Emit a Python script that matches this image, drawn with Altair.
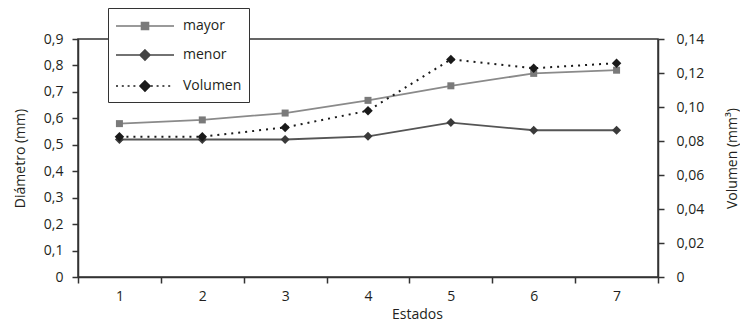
import altair as alt
import pandas as pd

estados = [1, 2, 3, 4, 5, 6, 7]
mayor = [0.58, 0.594, 0.62, 0.668, 0.723, 0.77, 0.782]
menor = [0.52, 0.52, 0.52, 0.532, 0.584, 0.555, 0.555]
volumen = [0.0825, 0.0825, 0.088, 0.0978, 0.128, 0.1228, 0.1258]
series = ["mayor", "menor", "Volumen"]
diam_ticks = [0, 0.1, 0.2, 0.3, 0.4, 0.5, 0.6, 0.7, 0.8, 0.9]
vol_ticks = [0, 0.02, 0.04, 0.06, 0.08, 0.10, 0.12, 0.14]

FONT = "Open Sans"
df_may = pd.DataFrame({"estado": estados, "valor": mayor, "serie": "mayor"})
df_men = pd.DataFrame({"estado": estados, "valor": menor, "serie": "menor"})
df_vol = pd.DataFrame({"estado": estados, "valor": volumen, "serie": "Volumen"})
df_all = pd.concat([df_may, df_men, df_vol])

xenc = alt.X(
    "estado:O",
    bandPosition=0.5,
    scale=alt.Scale(type="band", paddingInner=0, paddingOuter=0),
    axis=alt.Axis(title="Estados", labelAngle=0, tickBand="extent", titleX=339, titlePadding=4),
)

yleft = alt.Y(
    "valor:Q",
    scale=alt.Scale(domain=[0, 0.9], nice=False),
    axis=alt.Axis(
        title="Diámetro (mm)",
        values=diam_ticks,
        titlePadding=16,
        labelExpr="datum.value == 0 ? '0' : replace(format(datum.value, '.1f'), '.', ',')",
    ),
)
yright = alt.Y(
    "valor:Q",
    scale=alt.Scale(domain=[0, 0.14], nice=False),
    axis=alt.Axis(
        title="Volumen (mm³)",
        orient="right",
        values=vol_ticks,
        titleAngle=270,
        titleBaseline="top",
        titlePadding=22,
        labelPadding=12,
        labelExpr="datum.value == 0 ? '0' : replace(format(datum.value, '.2f'), '.', ',')",
    ),
)

line_may = alt.Chart(df_may).mark_line(color="#8a8a8a", strokeWidth=1.8).encode(x=xenc, y=yleft)
pt_may = alt.Chart(df_may).mark_point(shape="square", filled=True, color="#7a7a7a", size=49, opacity=1).encode(x=xenc, y=yleft)
line_men = alt.Chart(df_men).mark_line(color="#555555", strokeWidth=1.8).encode(x=xenc, y=yleft)
pt_men = alt.Chart(df_men).mark_point(shape="diamond", filled=True, color="#3a3a3a", size=80, opacity=1).encode(x=xenc, y=yleft)

# legend symbols: a line sample with a marker, unit = 10 px (symbolSize 400)
def dotted():
    parts = []
    a = -0.9
    while a < 4.85:
        if abs(a - 1.9) > 0.6:
            parts.append(f"M{a - 0.1:.2f},0H{a + 0.1:.2f}")
        a += 0.58
    return "".join(parts)

paths = [
    "M-1,0H4.8M1.55,-0.35H2.25V0.35H1.55Z",
    "M-1,0H4.8M1.9,-0.5L2.4,0L1.9,0.5L1.4,0Z",
    dotted() + "M1.9,-0.5L2.4,0L1.9,0.5L1.4,0Z",
]
colors = ["#7a7a7a", "#444444", "#1a1a1a"]
leg = alt.Legend(
    title=None,
    orient="none",
    legendX=30,
    legendY=-31,
    fillColor="white",
    strokeColor="#333333",
    padding=7,
    symbolSize=400,
    symbolOpacity=1,
    symbolStrokeWidth=1.6,
    labelFontSize=14,
    labelFont=FONT,
    labelColor="#231f20",
    labelOffset=46,
    rowPadding=11,
)
hidden = alt.Chart(df_all).mark_point(filled=True, opacity=0, size=1).encode(
    x=xenc,
    y=yleft,
    shape=alt.Shape("serie:N", scale=alt.Scale(domain=series, range=paths), legend=leg),
    color=alt.Color("serie:N", scale=alt.Scale(domain=series, range=colors), legend=leg),
    stroke=alt.Stroke("serie:N", scale=alt.Scale(domain=series, range=colors), legend=leg),
)

left = alt.layer(line_may, pt_may, line_men, pt_men, hidden)

line_vol = alt.Chart(df_vol).mark_line(color="#1a1a1a", strokeWidth=2, strokeDash=[2, 5]).encode(x=xenc, y=yright)
pt_vol = alt.Chart(df_vol).mark_point(shape="diamond", filled=True, color="#1a1a1a", size=90, opacity=1).encode(x=xenc, y=yright)
right = alt.layer(line_vol, pt_vol)

chart = (
    alt.layer(left, right)
    .resolve_scale(y="independent")
    .properties(
        width=580,
        height=238,
        autosize=alt.AutoSizeParams(type="none"),
        padding={"left": 70, "top": 31, "right": 82, "bottom": 50},
    )
    .configure_view(stroke="#333333", strokeWidth=1.5)
    .configure_axis(
        grid=False,
        domainColor="#333333",
        domainWidth=1.5,
        tickColor="#333333",
        tickWidth=1.5,
        tickSize=6,
        labelFont=FONT,
        labelFontSize=14,
        labelColor="#231f20",
        labelPadding=9,
        titleFont=FONT,
        titleFontSize=14,
        titleFontWeight="normal",
        titleColor="#231f20",
    )
    .configure_axisX(labelPadding=6)
)

chart.save("out.html", embed_options={"renderer": "svg", "actions": False})
